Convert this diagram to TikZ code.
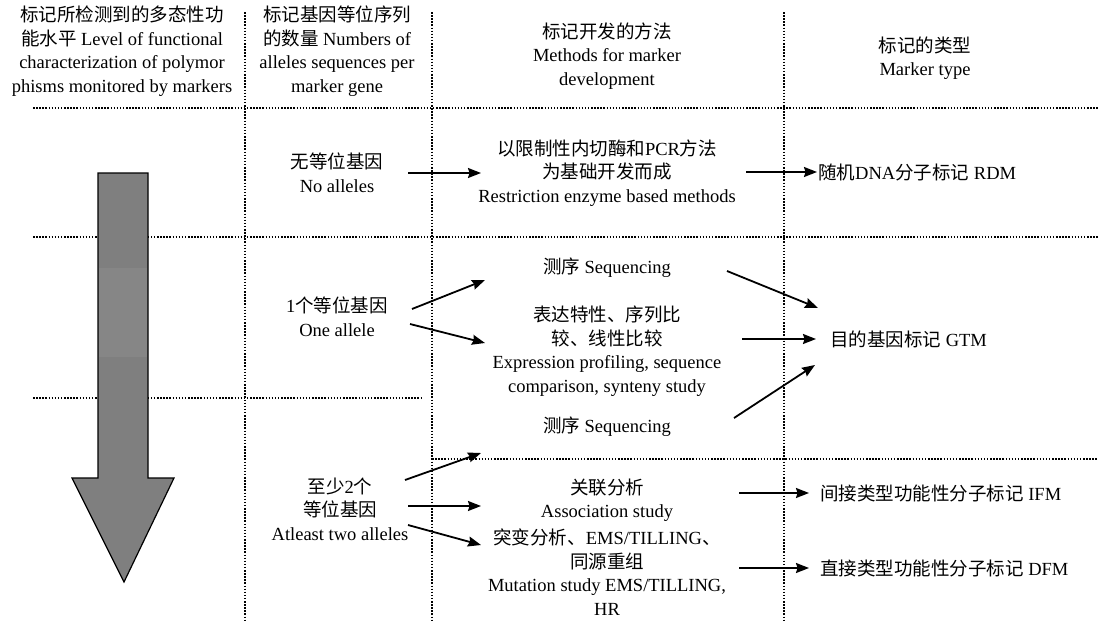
\documentclass[tikz,border=0pt]{standalone}
\usepackage{fontspec}
\setmainfont{Liberation Serif}
\newfontfamily\cjk{Noto Sans CJK SC}
\usetikzlibrary{arrows.meta}
\newcommand{\zh}[1]{{\cjk #1}}
\definecolor{arrowgray}{HTML}{7F7F7F}
\definecolor{bandgray}{HTML}{868686}
\tikzset{
  gridline/.style={line width=1.5pt, dash pattern=on 1.5pt off 1.6pt},
  conn/.style={line width=1.8pt, -{Stealth[length=13pt,width=10pt,inset=1.5pt]}},
  txt/.style={align=center, inner sep=0pt, font=\fontsize{18.5}{23.5}\selectfont},
  ltxt/.style={anchor=west, inner sep=0pt, font=\fontsize{18.5}{23.5}\selectfont},
}
\begin{document}
\begin{tikzpicture}[x=1pt,y=-1pt]
\useasboundingbox (0,0) rectangle (1098,621);
\fill[white] (0,0) rectangle (1098,621);
% grid lines
\draw[gridline] (245,12) -- (245,621);
\draw[gridline] (432,12) -- (432,621);
\draw[gridline] (784,12) -- (784,621);
\draw[gridline] (33,108) -- (1098,108);
\draw[gridline] (33,237) -- (1098,237);
\draw[gridline] (33,398) -- (423,398);
\draw[gridline] (432,459) -- (1098,459);
% big arrow
\fill[arrowgray] (98,173) -- (148,173) -- (148,478) -- (174,478) -- (124,582) -- (72,478) -- (98,478) -- cycle;
\fill[bandgray] (99,268) rectangle (147,357);
\draw[line width=1.2pt, line join=miter] (98,173) -- (148,173) -- (148,478) -- (174,478) -- (124,582) -- (72,478) -- (98,478) -- cycle;
% headers
\node[txt] (h1) at (122,51) {\zh{标记所检测到的多态性功}\\\zh{能水平} Level of functional\\characterization of polymor\\phisms monitored by markers};
\node[txt] (h2) at (337,51) {\zh{标记基因等位序列}\\\zh{的数量} Numbers of\\alleles sequences per\\marker gene};
\node[txt] (h3) at (607,56) {\zh{标记开发的方法}\\Methods for marker\\development};
\node[txt] (h4) at (925,58) {\zh{标记的类型}\\Marker type};
% row 1
\node[txt] (n0) at (337,173) {\zh{无等位基因}\\No alleles};
\node[txt] (m1) at (607,173) {\zh{以限制性内切酶和}PCR\zh{方法}\\\zh{为基础开发而成}\\Restriction enzyme based methods};
\node[ltxt] (rdm) at (818,172) {\zh{随机}DNA\zh{分子标记} RDM};
% row 2
\node[txt] (s1) at (607,268) {\zh{测序} Sequencing};
\node[txt] (n1) at (337,317) {1\zh{个等位基因}\\One allele};
\node[txt] (m2) at (607,351) {\zh{表达特性、序列比}\\\zh{较、线性比较}\\Expression profiling, sequence\\comparison, synteny study};
\node[txt] (s2) at (607,427) {\zh{测序} Sequencing};
\node[ltxt] (gtm) at (830,339) {\zh{目的基因标记} GTM};
% row 3
\node[txt] (n2) at (340,509) {\zh{至少}2\zh{个}\\\zh{等位基因}\\Atleast two alleles};
\node[txt] (m3) at (607,500) {\zh{关联分析}\\Association study};
\node[txt] (m4) at (607,572) {\zh{突变分析、}EMS/TILLING\zh{、}\\\zh{同源重组}\\Mutation study EMS/TILLING,\\HR};
\node[ltxt] (ifm) at (820,493) {\zh{间接类型功能性分子标记} IFM};
\node[ltxt] (dfm) at (820,568) {\zh{直接类型功能性分子标记} DFM};
% connector endpoints
\coordinate (a1s) at (408,173); \coordinate (a1e) at (481,173);
\coordinate (a2s) at (746,172); \coordinate (a2e) at (817,172);
\coordinate (a3s) at (412,309); \coordinate (a3e) at (485,280);
\coordinate (a4s) at (410,324); \coordinate (a4e) at (485,343);
\coordinate (a5s) at (727,271); \coordinate (a5e) at (818,308);
\coordinate (a6s) at (742,339); \coordinate (a6e) at (816,339);
\coordinate (a7s) at (734,418); \coordinate (a7e) at (815,365);
\coordinate (a8s) at (405,480); \coordinate (a8e) at (481,453);
\coordinate (a9s) at (408,506); \coordinate (a9e) at (481,506);
\coordinate (a10s) at (408,525); \coordinate (a10e) at (481,545);
\coordinate (a11s) at (739,493); \coordinate (a11e) at (809,493);
\coordinate (a12s) at (739,568); \coordinate (a12e) at (809,568);
\foreach \i in {1,...,12} {\draw[conn] (a\i s) -- (a\i e);}
\end{tikzpicture}
\end{document}
